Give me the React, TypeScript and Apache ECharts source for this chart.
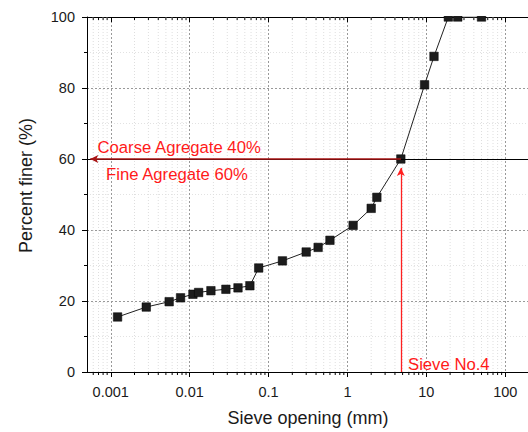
import React, { useEffect, useRef } from "react";
import * as echarts from "echarts";

const SIEVE_MM = [0.00122, 0.00282, 0.0055, 0.00767, 0.011, 0.013, 0.0186, 0.0288, 0.041, 0.058, 0.075, 0.15, 0.3, 0.425, 0.6, 1.18, 2.0, 2.36, 4.75, 9.5, 12.5, 19, 25, 50];
const PERCENT_FINER = [15.5, 18.3, 19.8, 20.9, 21.9, 22.4, 22.9, 23.3, 23.7, 24.3, 29.3, 31.3, 33.8, 35.1, 37.1, 41.3, 46.1, 49.2, 60, 80.9, 88.9, 100, 100, 100];
const X_MIN = 0.0005;
const X_MAX = 200;
const DECADES = [0.0001, 0.001, 0.01, 0.1, 1, 10, 100];
const MINOR_MULTIPLIERS = [2, 3, 4, 5, 6, 7, 8, 9];
const SIEVE_NO4 = 4.75;
const SPLIT_PERCENT = 60;

const FONT = 'Arial, "Liberation Sans", sans-serif';

export default function App() {
  const ref = useRef<HTMLDivElement>(null);
  useEffect(() => {
    if (!ref.current) return;
    const chart = echarts.init(ref.current, undefined, { renderer: "svg" });
    const minorVals: number[] = [];
    DECADES.forEach((d) =>
      MINOR_MULTIPLIERS.forEach((m) => {
        const v = d * m;
        if (v > X_MIN && v < X_MAX) minorVals.push(v);
      })
    );
    const logAxisBase = {
      type: "log" as const,
      logBase: 10,
      min: X_MIN,
      max: X_MAX,
    };
    chart.setOption({
      animation: false,
      backgroundColor: "#fff",
      grid: { left: 87, right: 1, top: 17, bottom: 58 },
      xAxis: [
        {
          ...logAxisBase,
          position: "bottom",
          name: "Sieve opening (mm)",
          nameLocation: "middle",
          nameGap: 37,
          nameTextStyle: { fontSize: 18, color: "#1a1a1a", fontFamily: FONT },
          axisLine: { show: true, lineStyle: { color: "#000", width: 1 } },
          axisTick: { show: true, inside: false, length: 5, lineStyle: { color: "#000" } },
          axisLabel: {
            fontSize: 14.5,
            color: "#1a1a1a",
            fontFamily: FONT,
            margin: 12,
            showMinLabel: false,
            showMaxLabel: false,
            formatter: (v: number) => {
              const l = Math.log10(v);
              if (Math.abs(l - Math.round(l)) > 1e-6) return "";
              return String(Number(v.toPrecision(6)));
            },
          },
          splitLine: { show: true, lineStyle: { color: "#999", type: [2, 2], width: 1 } },
          minorTick: { show: false },
          minorSplitLine: { show: false },
        },
        {
          ...logAxisBase,
          position: "top",
          axisLine: { show: true, lineStyle: { color: "#000", width: 1 } },
          axisTick: { show: true, inside: true, length: 5, lineStyle: { color: "#000" } },
          axisLabel: { show: false },
          splitLine: { show: false },
        },
      ],
      yAxis: [
        {
          type: "value",
          min: 0,
          max: 100,
          interval: 20,
          name: "Percent finer (%)",
          nameLocation: "middle",
          nameGap: 52,
          nameTextStyle: { fontSize: 18, color: "#1a1a1a", fontFamily: FONT, padding: [0, 0, 0, 18] },
          axisLine: { show: true, lineStyle: { color: "#000", width: 1 } },
          axisTick: { show: true, inside: false, length: 5, lineStyle: { color: "#000" } },
          minorTick: { show: true, splitNumber: 2, length: 3, lineStyle: { color: "#000" } },
          axisLabel: { fontSize: 14.5, color: "#1a1a1a", fontFamily: FONT, margin: 12 },
          splitLine: { show: true, lineStyle: { color: "#999", type: [2, 2], width: 1 } },
          minorSplitLine: { show: true, lineStyle: { color: "#e2e2e2", type: [1, 2], width: 1 } },
        },
      ],
      series: [
        {
          type: "custom",
          silent: true,
          z: 1,
          xAxisIndex: 0,
          yAxisIndex: 0,
          encode: { x: 0 },
          data: minorVals.map((v) => [v]),
          renderItem: (params: any, api: any) => {
            const v = api.value(0);
            const bottom = api.coord([v, 0]);
            const top = api.coord([v, 100]);
            return {
              type: "group",
              children: [
                {
                  type: "line",
                  shape: { x1: bottom[0], y1: bottom[1], x2: top[0], y2: top[1] },
                  style: { stroke: "#dedede", lineWidth: 1, lineDash: [1, 2] },
                },
                {
                  type: "line",
                  shape: { x1: bottom[0], y1: bottom[1], x2: bottom[0], y2: bottom[1] + 3 },
                  style: { stroke: "#000", lineWidth: 1 },
                },
                {
                  type: "line",
                  shape: { x1: top[0], y1: top[1], x2: top[0], y2: top[1] + 3 },
                  style: { stroke: "#000", lineWidth: 1 },
                },
              ],
            };
          },
        },
        {
          type: "line",
          xAxisIndex: 0,
          yAxisIndex: 0,
          z: 3,
          data: SIEVE_MM.map((x, i) => [x, PERCENT_FINER[i]]),
          symbol: "rect",
          symbolSize: 8.5,
          itemStyle: { color: "#1c1c1c", borderColor: "#000", borderWidth: 0.5 },
          lineStyle: { color: "#222", width: 1 },
          markLine: {
            silent: true,
            animation: false,
            label: { show: false },
            data: [
              [
                { coord: [X_MIN, SPLIT_PERCENT], symbol: "none" },
                { coord: [X_MAX, SPLIT_PERCENT], symbol: "none", lineStyle: { color: "#000", width: 1, type: "solid" } },
              ],
              [
                { coord: [SIEVE_NO4, SPLIT_PERCENT], symbol: "none" },
                {
                  coord: [X_MIN * 1.1, SPLIT_PERCENT],
                  symbol: "arrow",
                  symbolSize: [6, 8],
                  lineStyle: { color: "#a81414", width: 1.5, type: "solid" },
                },
              ],
              [
                { coord: [SIEVE_NO4, 0], symbol: "none" },
                {
                  coord: [SIEVE_NO4, 57.5],
                  symbol: "arrow",
                  symbolSize: [6, 8],
                  lineStyle: { color: "#ff2020", width: 1.3, type: "solid" },
                },
              ],
            ],
          },
        },
      ],
      graphic: [
        {
          type: "rect",
          z: 100,
          shape: { x: 87.5, y: 0, width: 445, height: 16 },
          style: { fill: "#fff" },
          silent: true,
        },
        {
          type: "text",
          z: 100,
          x: 97.5,
          y: 147,
          style: { text: "Coarse Agregate 40%", fill: "#ff1a1a", font: `16.7px ${FONT}`, verticalAlign: "middle" },
        },
        {
          type: "text",
          z: 100,
          x: 106,
          y: 174.5,
          style: { text: "Fine Agregate 60%", fill: "#ff1a1a", font: `16.7px ${FONT}`, verticalAlign: "middle" },
        },
        {
          type: "text",
          z: 100,
          x: 408,
          y: 364.5,
          style: { text: "Sieve No.4", fill: "#ff1a1a", font: `16.7px ${FONT}`, verticalAlign: "middle" },
        },
      ],
    });
    return () => chart.dispose();
  }, []);
  return (
    <div
      ref={ref}
      style={{ position: "fixed", left: 0, top: 0, width: 530, height: 432, background: "#fff" }}
    />
  );
}
